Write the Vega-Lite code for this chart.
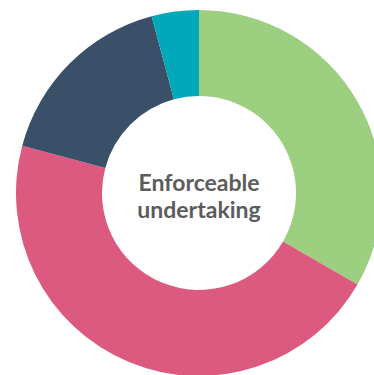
{
  "$schema": "https://vega.github.io/schema/vega-lite/v6.json",
  "width": 398,
  "height": 386,
  "padding": 0,
  "autosize": "none",
  "background": "white",
  "view": {"stroke": null},
  "layer": [
    {
      "data": {
        "values": [
          {"category": "Green", "order": 1, "value": 8},
          {"category": "Pink", "order": 2, "value": 11},
          {"category": "Navy", "order": 3, "value": 4},
          {"category": "Teal", "order": 4, "value": 1}
        ]
      },
      "mark": {"type": "arc", "outerRadius": 183, "innerRadius": 97},
      "encoding": {
        "theta": {"field": "value", "type": "quantitative", "stack": true},
        "order": {"field": "order", "type": "quantitative"},
        "color": {
          "field": "category",
          "type": "nominal",
          "scale": {
            "domain": ["Green", "Pink", "Navy", "Teal"],
            "range": ["#9dcf80", "#dc5a80", "#3a5069", "#00a9b9"]
          },
          "legend": null
        }
      }
    },
    {
      "data": {"values": [{"label": ["Enforceable", "undertaking"]}]},
      "mark": {
        "type": "text",
        "font": "Lato",
        "fontWeight": "bold",
        "fontSize": 23,
        "lineHeight": 27,
        "dy": -9,
        "color": "#5c5c5c",
        "align": "center",
        "baseline": "middle"
      },
      "encoding": {"text": {"field": "label"}}
    }
  ]
}
